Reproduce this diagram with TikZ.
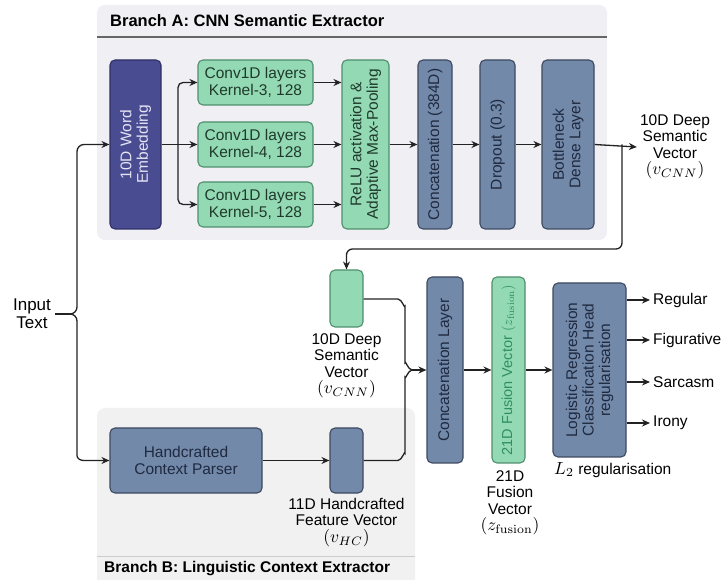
\documentclass[tikz,border=0pt]{standalone}
\usepackage[no-math]{fontspec}
\usepackage{graphicx}
\setmainfont{Liberation Sans}
\usetikzlibrary{arrows.meta,calc}
\newcommand{\mth}[2][1.75]{\scalebox{#1}{\fontsize{10}{12}\selectfont$#2$}}
\definecolor{slatefill}{HTML}{7389AA}
\definecolor{slatedraw}{HTML}{3D4A60}
\definecolor{slatetext}{HTML}{1F2A40}
\definecolor{embfill}{HTML}{4A4C92}
\definecolor{embdraw}{HTML}{2E3066}
\definecolor{embtext}{HTML}{E4E4F4}
\definecolor{grfill}{HTML}{93D9B4}
\definecolor{grdraw}{HTML}{4F8F6D}
\definecolor{grtext}{HTML}{1F3A2C}
\definecolor{fustext}{HTML}{2F8F5F}
\definecolor{panelA}{HTML}{EFEFF4}
\definecolor{panelB}{HTML}{F1F1F1}
\definecolor{linec}{HTML}{222222}
\tikzset{
  boxbase/.style={rounded corners=5pt, line width=1.1pt, inner sep=0pt},
  slatebox/.style={boxbase, fill=slatefill, draw=slatedraw},
  embbox/.style={boxbase, fill=embfill, draw=embdraw},
  grbox/.style={boxbase, fill=grfill, draw=grdraw},
  lbl/.style={font=\fontsize{15.5}{16.5}\selectfont, align=center, inner sep=0pt},
  rlbl/.style={lbl, rotate=90},
  arr/.style={draw=linec, line width=1.3pt, -{Stealth[length=8pt,width=7pt]}},
  ln/.style={draw=linec, line width=1.3pt},
  outl/.style={lbl, anchor=west, inner xsep=3pt},
  ttl/.style={anchor=west, inner sep=0pt},
}
\begin{document}
\begin{tikzpicture}[x=1pt,y=-1pt]
\useasboundingbox (0,0) rectangle (724,580);
% panels
\fill[panelA, rounded corners=8pt] (97,5) rectangle (607,240);
\draw[gray!80!black, line width=1.2pt] (97,37) -- (607,37);
\node[ttl, font=\fontsize{16.5}{18}\selectfont\bfseries] (titleA) at (110,21) {Branch A: CNN Semantic Extractor};
\fill[panelB] (97,580) [rounded corners=8pt] -- (97,408) -- (415,408) [sharp corners] -- (415,580) -- cycle;
\draw[gray!40, line width=1pt] (97,556) -- (415,556);
\node[ttl, font=\fontsize{15.5}{17}\selectfont\bfseries] (titleB) at (104,569) {Branch B: Linguistic Context Extractor};

% Branch A nodes
\node[embbox, minimum width=51pt, minimum height=169pt] (emb) at (135.5,144.5) {};
\node[rlbl, text=embtext] at (emb) {10D Word\\Embedding};
\node[grbox, minimum width=115pt, minimum height=45pt, lbl, text=grtext] (c3) at (255.5,82.5) {Conv1D layers\\Kernel-3, 128};
\node[grbox, minimum width=115pt, minimum height=45pt, lbl, text=grtext] (c4) at (255.5,144.5) {Conv1D layers\\Kernel-4, 128};
\node[grbox, minimum width=115pt, minimum height=45pt, lbl, text=grtext] (c5) at (255.5,204.5) {Conv1D layers\\Kernel-5, 128};
\node[grbox, minimum width=47pt, minimum height=169pt] (relu) at (365.5,144.5) {};
\node[rlbl, text=grtext] at (relu) {ReLU activation \&\\Adaptive Max-Pooling};
\node[slatebox, minimum width=34pt, minimum height=169pt] (cat1) at (435,144.5) {};
\node[rlbl, text=slatetext] at (cat1) {Concatenation (384D)};
\node[slatebox, minimum width=35pt, minimum height=169pt] (drop) at (497.5,144.5) {};
\node[rlbl, text=slatetext] at (drop) {Dropout (0.3)};
\node[slatebox, minimum width=52pt, minimum height=169pt] (bott) at (568,144.5) {};
\node[rlbl, text=slatetext] at (bott) {Bottleneck\\Dense Layer};
\node[lbl, inner xsep=3pt] (outA) at (675,147) {10D Deep\\Semantic\\Vector\\\mth{(v_{CNN})}};

% Branch A connectors
\coordinate (split) at (178,144.5);
\draw[ln] (emb.east) -- (split);
\draw[arr, rounded corners=5pt] (split) |- (c3.west);
\draw[arr] (split) -- (c4.west);
\draw[arr, rounded corners=5pt] (split) |- (c5.west);
\draw[arr] (c3.east) -- (relu.west |- c3.east);
\draw[arr] (c4.east) -- (relu.west |- c4.east);
\draw[arr] (c5.east) -- (relu.west |- c5.east);
\draw[arr] (relu.east) -- (cat1.west);
\draw[arr] (cat1.east) -- (drop.west);
\draw[arr] (drop.east) -- (bott.west);
\draw[arr] (bott.east) -- (outA.west);

% semantic vector copy
\node[grbox, minimum width=33pt, minimum height=57pt] (sem) at (346.5,298.5) {};
\node[lbl, anchor=north] (semlbl) at (346.5,333) {10D Deep\\Semantic\\Vector\\\mth{(v_{CNN})}};
\coordinate (fb) at (622,144.5);
\draw[arr, rounded corners=6pt] (fb) -- (622,249) -- (346.5,249) -- (sem.north);

% Input
\node[lbl, font=\fontsize{17}{18}\selectfont] (inp) at (32,314) {Input\\Text};

% Branch B nodes
\node[slatebox, minimum width=152pt, minimum height=65pt, lbl, text=slatetext] (hcp) at (186,460.5) {Handcrafted\\Context Parser};
\node[slatebox, minimum width=33pt, minimum height=65pt] (hcv) at (346.5,460.5) {};
\node[lbl, anchor=north] (hcvlbl) at (346.5,498) {11D Handcrafted\\Feature Vector\\\mth{(v_{HC})}};
\draw[arr] (hcp.east) -- (hcv.west);

% input brace
\coordinate (inbr) at (70,314);
\draw[ln] (inp.east) ++(4pt,0) -- (inbr);
\draw[arr] (inbr) to[out=0,in=90] (77,321) -- (77,455.5) to[out=-90,in=180] (84,460.5) -- (hcp.west);
\draw[arr] (inbr) to[out=0,in=-90] (77,307) -- (77,151.5) to[out=90,in=180] (84,144.5) -- (emb.west);

% fusion section
\node[slatebox, minimum width=36pt, minimum height=186pt] (cat2) at (445,370) {};
\node[rlbl, text=slatetext] at (cat2) {Concatenation Layer};
\node[grbox, minimum width=33pt, minimum height=186pt] (fus) at (508.5,370) {};
\node[rlbl, text=fustext, font=\fontsize{14.5}{15.5}\selectfont] at (fus) {21D Fusion Vector \mth[1.4]{(z_{\mathrm{fusion}})}};
\node[lbl, anchor=north] (fuslbl) at (510,470) {21D\\Fusion\\Vector\\\mth{(z_{\mathrm{fusion}})}};
\node[slatebox, minimum width=73pt, minimum height=174pt] (lr) at (589.5,370) {};
\node[rlbl, text=slatetext] at (lr) {Logistic Regression\\Classification Head\\regularisation};
\node[lbl, anchor=west] (l2) at (554,470) {\mth{L_2} regularisation};

% brace into concatenation
\coordinate (cbr) at (412,370);
\draw[ln] (sem.east |- 0,299) -- (398,299) to[out=0,in=-90] (405,306) -- (405,363) to[out=90,in=180] (cbr);
\draw[ln] (hcv.east) -- (398,460.5) to[out=0,in=90] (405,453.5) -- (405,377) to[out=-90,in=180] (cbr);
\draw[arr] (cbr) -- (cat2.west);
\draw[arr] (cat2.east) -- (fus.west);
\draw[arr] (fus.east) -- (lr.west);

% outputs
\node[outl] (o1) at (650,300) {Regular};
\node[outl] (o2) at (650,340) {Figurative};
\node[outl] (o3) at (650,382) {Sarcasm};
\node[outl] (o4) at (650,423) {Irony};
\draw[arr] (lr.east |- o1.west) -- (o1.west);
\draw[arr] (lr.east |- o2.west) -- (o2.west);
\draw[arr] (lr.east |- o3.west) -- (o3.west);
\draw[arr] (lr.east |- o4.west) -- (o4.west);
\end{tikzpicture}
\end{document}
